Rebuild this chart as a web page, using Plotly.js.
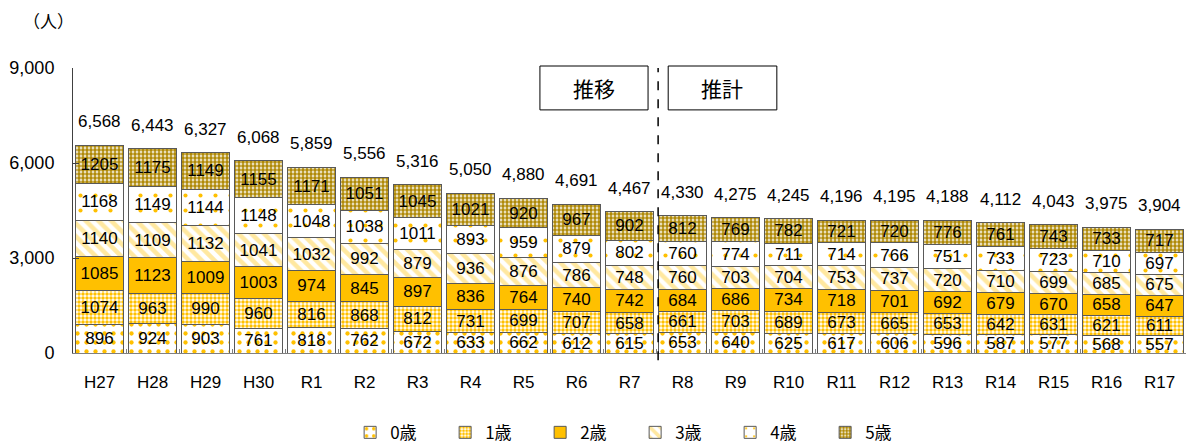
<!DOCTYPE html>
<html><head><meta charset="utf-8">
<script src="https://cdn.plot.ly/plotly-3.0.1.min.js"></script>
<style>html,body{margin:0;padding:0;background:#fff}#chart{width:1192px;height:444px}</style>
</head><body><div id="chart"></div>
<script>
const categories = ["H27","H28","H29","H30","R1","R2","R3","R4","R5","R6","R7","R8","R9","R10","R11","R12","R13","R14","R15","R16","R17"];
const age0 = [896,924,903,761,818,762,672,633,662,612,615,653,640,625,617,606,596,587,577,568,557];
const age1 = [1074,963,990,960,816,868,812,731,699,707,658,661,703,689,673,665,653,642,631,621,611];
const age2 = [1085,1123,1009,1003,974,845,897,836,764,740,742,684,686,734,718,701,692,679,670,658,647];
const age3 = [1140,1109,1132,1041,1032,992,879,936,876,786,748,760,703,704,753,737,720,710,699,685,675];
const age4 = [1168,1149,1144,1148,1048,1038,1011,893,959,879,802,760,774,711,714,766,751,733,723,710,697];
const age5 = [1205,1175,1149,1155,1171,1051,1045,1021,920,967,902,812,769,782,721,720,776,761,743,733,717];
const seriesNames = ["0歳","1歳","2歳","3歳","4歳","5歳"];
const totals = categories.map((c,i)=>age0[i]+age1[i]+age2[i]+age3[i]+age4[i]+age5[i]);
const yTicks = [0,3000,6000,9000];
const yTickText = ["0","3,000","6,000","9,000"];

const font = "Liberation Sans, Arial, sans-serif";
const styles = [
  {shape:".", bgcolor:"#FFFFFF", fgcolor:"#FFC000", size:9, solidity:0.18},
  {shape:".", bgcolor:"#FFFFFF", fgcolor:"#FFC000", size:4, solidity:0.6},
  {shape:"", bgcolor:"#FFC000", fgcolor:"#FFC000", size:8, solidity:0.5},
  {shape:"\\", bgcolor:"#FFFFFF", fgcolor:"#FFE8A0", size:9, solidity:0.5},
  {shape:".", bgcolor:"#FFFFFF", fgcolor:"#FFC000", size:15, solidity:0.06},
  {shape:".", bgcolor:"#FFFFFF", fgcolor:"#B08A08", size:4, solidity:0.7}
];
const data = [age0,age1,age2,age3,age4,age5].map((vals,k)=>({
  type:"bar", x:categories, y:vals, name:seriesNames[k],
  text: vals.map(String), textposition:"inside", insidetextanchor:"middle",
  textangle:0, constraintext:"none",
  textfont:{family:font, size:17, color:"#000"},
  marker:{color: styles[k].shape===""?"#FFC000":"#FFFFFF",
          line:{color:"#595959", width:1},
          pattern: styles[k].shape===""? undefined : {shape:styles[k].shape, bgcolor:styles[k].bgcolor, fgcolor:styles[k].fgcolor, size:styles[k].size, solidity:styles[k].solidity, fillmode:"replace"}},
  hoverinfo:"skip"
}));

const annotations = categories.map((c,i)=>({
  x:c, y:totals[i], xref:"x", yref:"y", text: totals[i].toLocaleString("en-US"),
  showarrow:false, yanchor:"bottom", yshift:12, font:{family:font, size:17, color:"#000"}
}));
annotations.push({xref:"paper", yref:"paper", x:-0.022, y:1.168, xanchor:"center", yanchor:"middle",
  text:"（人）", showarrow:false, font:{family:"Noto Sans CJK JP", size:17, color:"#000"}});
annotations.push({xref:"x", yref:"paper", x:9.33, y:0.93, xanchor:"center", yanchor:"middle",
  text:"推移", showarrow:false, font:{family:"Noto Sans CJK JP", size:21, color:"#000"}});
annotations.push({xref:"x", yref:"paper", x:11.75, y:0.93, xanchor:"center", yanchor:"middle",
  text:"推計", showarrow:false, font:{family:"Noto Sans CJK JP", size:21, color:"#000"}});

const shapes = [
  {type:"line", xref:"x", yref:"paper", x0:10.54, x1:10.54, y0:-0.025, y1:1.0, line:{color:"#000", width:1.5, dash:"dash"}},
  {type:"rect", xref:"x", yref:"paper", x0:8.31, x1:10.35, y0:0.853, y1:1.007, line:{color:"#000", width:1}},
  {type:"rect", xref:"x", yref:"paper", x0:10.73, x1:12.78, y0:0.853, y1:1.007, line:{color:"#000", width:1}}
];

const layout = {
  width:1192, height:444, barmode:"stack", bargap:0.09,
  margin:{l:73, r:6, t:68, b:91, autoexpand:false},
  paper_bgcolor:"#fff", plot_bgcolor:"#fff",
  font:{family:font, size:17, color:"#000"},
  xaxis:{type:"category", showline:true, linecolor:"#808080", linewidth:1, ticks:"inside", tickson:"boundaries", ticklen:4, tickcolor:"#808080",
         tickfont:{family:font, size:17}, showgrid:false, ticklabelstandoff:14},
  yaxis:{range:[0,9000], tickvals:yTicks, ticktext:yTickText, showline:true, linecolor:"#404040", linewidth:1,
         ticks:"inside", ticklen:6, tickcolor:"#404040", showgrid:false, zeroline:false, tickfont:{family:font, size:18}, ticklabelstandoff:14},
  legend:{orientation:"h", x:0.249, xanchor:"left", y:-0.28, yanchor:"middle", traceorder:"normal",
          font:{family:"Noto Sans CJK JP", size:17}, itemwidth:30, entrywidth:50},
  annotations, shapes, showlegend:true
};
Plotly.newPlot("chart", data, layout, {staticPlot:true});
</script></body></html>
